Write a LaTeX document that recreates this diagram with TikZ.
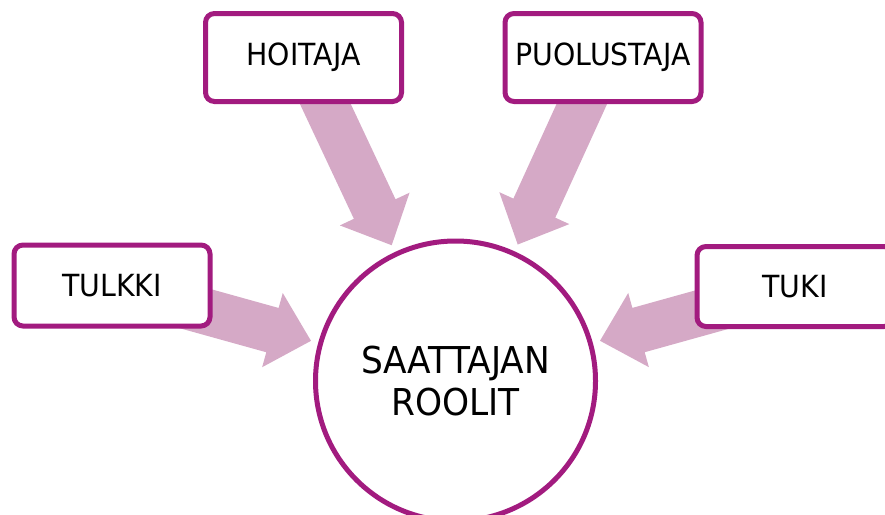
\documentclass[tikz,border=0pt]{standalone}
\usepackage{fontspec}
\setmainfont{DejaVu Sans}[FakeStretch=0.93]
\usetikzlibrary{calc,backgrounds}

\definecolor{reunus}{RGB}{162,27,127}
\definecolor{nuolenpun}{RGB}{213,169,198}

\tikzset{
  rooli/.style={draw=reunus, line width=5pt, fill=white, rounded corners=9pt,
    minimum width=196pt, minimum height=88pt, inner sep=0pt,
    font=\fontsize{30.5}{35}\selectfont},
  keskus/.style={circle, draw=reunus, line width=5pt, fill=white,
    minimum size=280pt, inner sep=0pt, align=center,
    font=\fontsize{37}{41.7}\selectfont},
  nuoli/.style={fill=nuolenpun}
}

% block arrow from the centre of #1 towards the centre of #2
\newcommand\uoli[2]{%
  \coordinate (u-s) at (#1.center);
  \coordinate (u-t) at ($(#2.center)!150pt!(#1.center)$);
  \coordinate (u-b) at ($(u-t)!40pt!(u-s)$);
  \fill[nuoli] ($(u-s)!23pt!90:(u-t)$) -- ($(u-b)!23pt!-90:(u-s)$)
    -- ($(u-b)!38.5pt!-90:(u-s)$) -- (u-t) -- ($(u-b)!38.5pt!90:(u-s)$)
    -- ($(u-b)!23pt!90:(u-s)$) -- ($(u-s)!23pt!-90:(u-t)$) -- cycle;
}

\begin{document}
\begin{tikzpicture}[x=1pt,y=-1pt]
\useasboundingbox (0,0) rectangle (885,514);
\clip (0,0) rectangle (885,514);

\node[keskus] (saattaja) at (455.5,381) {SAATTAJAN\\ROOLIT};
\node[rooli] (hoitaja) at (303.5,57.5) {HOITAJA};
\node[rooli] (puolustaja) at (603,57.5) {PUOLUSTAJA};
\node[rooli, minimum height=81pt] (tulkki) at (112,285.5) {TULKKI};
\node[rooli, minimum height=80pt] (tuki) at (795,286.5) {TUKI};

\begin{pgfonlayer}{background}
\uoli{tulkki}{saattaja}
\uoli{hoitaja}{saattaja}
\uoli{puolustaja}{saattaja}
\uoli{tuki}{saattaja}
\end{pgfonlayer}
\end{tikzpicture}
\end{document}
